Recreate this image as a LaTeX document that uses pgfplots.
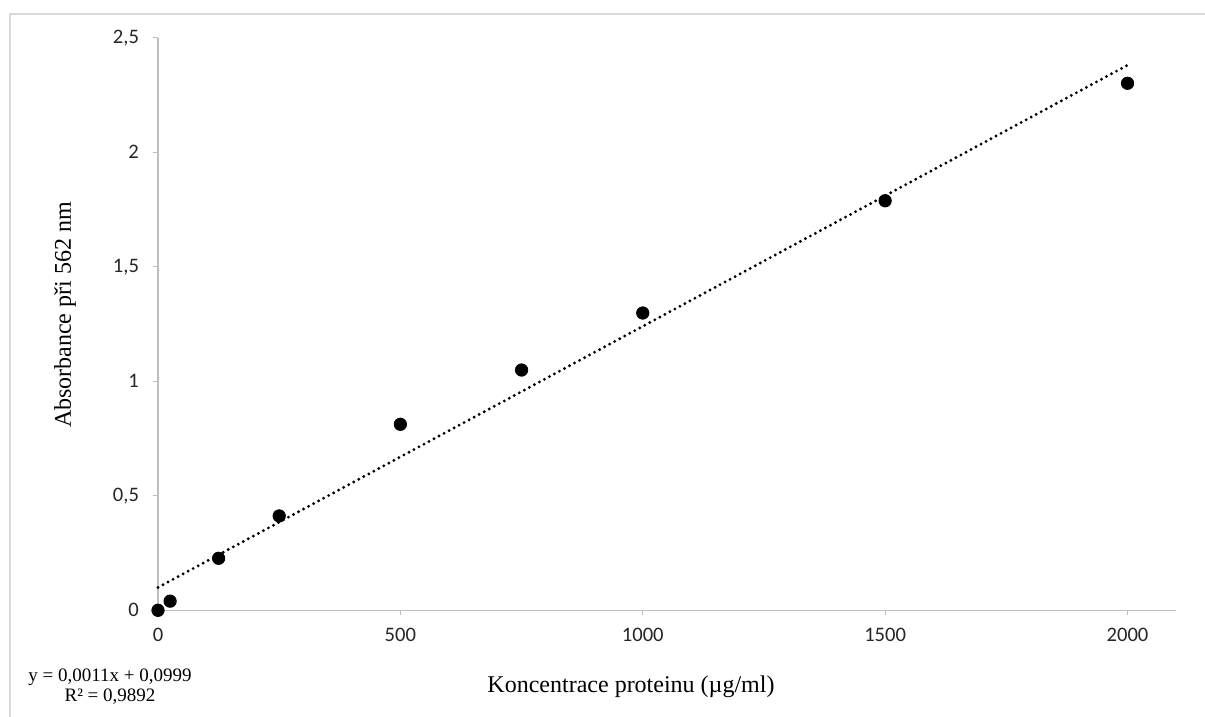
\documentclass[border=0pt]{standalone}
\usepackage{pgfplots}
\pgfplotsset{compat=1.18}
\usepackage{fontspec}
\setmainfont{Liberation Serif}
\newfontfamily\carlito{Carlito}
\definecolor{axgray}{HTML}{BFBFBF}
\definecolor{framegray}{HTML}{D9D9D9}
\begin{document}
\begin{tikzpicture}
\useasboundingbox (0,0) rectangle (602.5pt,358.5pt);
\fill[white] (0,0) rectangle (602.5pt,358.5pt);
\draw[framegray, line width=0.8pt] (5pt,-1pt) -- (5pt,351.5pt) -- (603pt,351.5pt);
\begin{axis}[
  at={(79pt,53.35pt)}, anchor=south west,
  scale only axis, width=509pt, height=286.3pt,
  xmin=0, xmax=2100, ymin=0, ymax=2.5,
  axis x line=bottom, axis y line=left,
  axis line style={-, axgray, line width=0.7pt},
  xtick={0,500,1000,1500,2000},
  ytick={0,0.5,1,1.5,2,2.5},
  tick align=outside, major tick length=2.5pt,
  tick style={axgray, line width=0.6pt},
  /pgf/number format/assume math mode=true,
  /pgf/number format/use comma,
  /pgf/number format/1000 sep={},
  ticklabel style={font=\carlito\fontsize{10.3}{12}\selectfont, text=black!85},
  xticklabel style={anchor=center, yshift=-10pt},
  yticklabel style={anchor=east, xshift=-3.5pt},
  clip=false,
]
\addplot[black, line width=1.6pt, line cap=round, dash pattern=on 0pt off 2.85pt] coordinates {(0,0.0999) (2000,2.38)};
\addplot[only marks, mark=*, mark size=3.1pt, black] coordinates {
(0,0) (25,0.04) (125,0.227) (250,0.412) (500,0.812) (750,1.049) (1000,1.298) (1500,1.788) (2000,2.301)};
\end{axis}
\node[font=\fontsize{12}{14}\selectfont] at (315.5pt,15pt) {Koncentrace proteinu (µg/ml)};
\node[font=\fontsize{12}{14}\selectfont, rotate=90] at (32.5pt,201pt) {Absorbance při 562 nm};
\node[font=\fontsize{9.5}{11}\selectfont] at (55pt,20pt) {y = 0,0011x + 0,0999};
\node[font=\fontsize{9.5}{11}\selectfont] at (55pt,10pt) {R² = 0,9892};
\end{tikzpicture}
\end{document}
